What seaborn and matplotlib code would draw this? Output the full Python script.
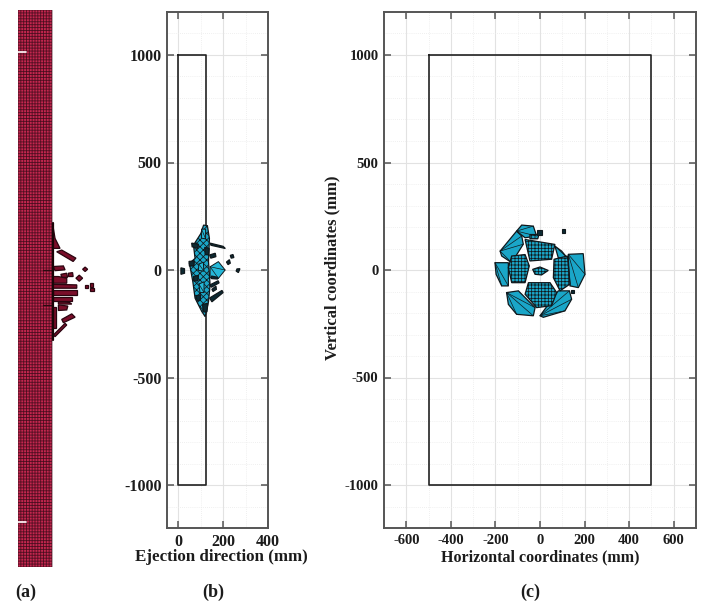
import numpy as np
import pandas as pd
import matplotlib
matplotlib.use("Agg")
import matplotlib.pyplot as plt
from matplotlib.ticker import MultipleLocator
import seaborn as sns

# ---------- data (mm) ----------
plate_side_x = [0, 125, 125, 0, 0]
plate_side_y = [1000, 1000, -1000, -1000, 1000]
plate_front_x = [-500, 500, 500, -500, -500]
plate_front_y = [1000, 1000, -1000, -1000, 1000]

# (a) debris polygons, side view of the mesh
debris_a = [
    [(124,162),(133,108),(151,72),(127,72)],
    [(139,60),(157,66),(208,37),(198,25)],
    [(127,7),(163,9),(169,-5),(133,-8)],
    [(154,-21),(175,-17),(178,-32),(157,-32)],
    [(181,-17),(196,-15),(198,-29),(181,-29)],
    [(232,-3),(241,5),(250,-3),(241,-11)],
    [(208,-35),(220,-24),(232,-35),(220,-46)],
    [(240,-58),(252,-58),(252,-70),(240,-70)],
    [(258,-52),(270,-52),(270,-66),(258,-66)],
    [(260,-70),(272,-70),(272,-82),(260,-82)],
    [(127,-29),(145,-29),(175,-35),(175,-53),(127,-53)],
    [(127,-57),(211,-59),(211,-71),(127,-71)],
    [(127,-77),(213,-77),(213,-95),(127,-95)],
    [(127,-101),(193,-101),(193,-116),(127,-116)],
    [(145,-120),(185,-122),(193,-128),(145,-128)],
    [(145,-131),(179,-135),(175,-149),(145,-151)],
    [(157,-183),(193,-163),(205,-175),(163,-195)],
    [(127,-239),(169,-197),(175,-203),(133,-245)],
    [(127,-140),(137,-140),(137,-215),(127,-215)],
]
spike_x = [[91, 127], [91, 127]]
spike_y = [[-5, -5], [-131, -131]]
face_x = [124, 124]
face_y = [162, -257]

# (b) debris polygons, side view
body_b = [(68,116),(101,170),(113,209),(130,206),(139,147),(135,39),(142,-70),
          (135,-147),(120,-217),(105,-193),(75,-131),(65,-54),(50,31),(75,54)]
solid_b = [
    [(142,15),(179,39),(209,0),(179,-39),(142,-36)],
    [(104,190),(122,190),(122,145),(104,148)],
    [(92,28),(112,36),(114,-5),(90,-2)],
    [(92,-65),(115,-55),(115,-105),(97,-105)],
]
bits_b = [
    [(142,125),(200,110),(210,100),(146,115)],
    [(140,70),(165,78),(168,62),(145,55)],
    [(215,37),(228,48),(232,32),(222,25)],
    [(232,68),(244,72),(248,58),(236,55)],
    [(262,5),(275,6),(268,-12),(258,-5)],
    [(12,10),(28,6),(28,-15),(12,-20)],
    [(140,-70),(178,-50),(182,-60),(148,-80)],
    [(150,-90),(168,-75),(170,-90),(155,-100)],
    [(140,-130),(195,-95),(200,-105),(150,-148)],
    [(148,-28),(175,-34),(176,-42),(148,-40)],
    [(60,125),(90,120),(88,100),(62,108)],
    [(48,40),(72,42),(70,20),(50,18)],
    [(68,-30),(90,-25),(88,-50),(70,-52)],
    [(78,-120),(100,-115),(98,-140),(85,-145)],
    [(108,-160),(132,-155),(128,-195),(112,-195)],
    [(118,105),(138,100),(136,70),(120,72)],
]

# (c) debris polygons, front view
facets_c = [
    [(-179,88),(-105,181),(-82,158),(-75,120),(-127,34),(-172,65)],
    [(-105,181),(-82,209),(-30,204),(-15,158),(-67,150)],
    [(-202,34),(-142,34),(-142,-74),(-172,-74),(-197,-20)],
    [(-150,-105),(-97,-97),(-22,-175),(-30,-213),(-105,-206),(-142,-160)],
    [(0,-213),(82,-97),(132,-97),(142,-136),(112,-190),(15,-220)],
    [(127,73),(194,76),(202,-20),(172,-82),(135,-74),(127,-5)],
    [(67,111),(97,88),(122,57),(82,57)],
]
dense_c = [
    [(-67,142),(67,119),(52,50),(-45,42)],
    [(-52,-59),(45,-59),(75,-105),(52,-166),(-15,-175),(-67,-113)],
    [(-127,65),(-67,72),(-48,19),(-67,-59),(-127,-59),(-142,11)],
    [(63,50),(123,65),(135,-65),(90,-97),(60,-36)],
    [(-33,3),(0,14),(37,-2),(7,-23),(-22,-20)],
    [(-45,165),(-5,165),(-10,145),(-45,145)],
]
bits_c = [
    [(97,190),(112,190),(112,170),(97,170)],
    [(-12,185),(8,185),(8,165),(-12,165)],
    [(140,-95),(152,-95),(152,-105),(140,-105)],
]

panel_labels = ["(a)", "(b)", "(c)"]
xlabel_b = "Ejection direction (mm)"
xlabel_c = "Horizontal coordinates (mm)"
ylabel_c = "Vertical coordinates (mm)"
yticks_all = [-1000, -500, 0, 500, 1000]
xticks_b = [0, 200, 400]
xticks_c = [-600, -400, -200, 0, 200, 400, 600]
mesh_x_cells = 12
mesh_y_cells = 190
mesh_width = 122
mesh_top = 928
mesh_bottom = -1072
cuts_y = [777, -910]

# ---------- style ----------
sns.set_theme(style="white")
plt.rcParams["font.family"] = ["Liberation Serif", "DejaVu Serif"]
plt.rcParams["font.weight"] = "bold"
plt.rcParams["axes.unicode_minus"] = False
plt.rcParams["hatch.linewidth"] = 0.55
W, H = 709, 610
TEAL = "#1aa6c8"
EDGE = "#10181c"
FRAME = "#555555"
TEXT = "#1c1c1c"
fig = plt.figure(figsize=(W / 100, H / 100), dpi=100)


def axes_px(l, t, r, b):
    return fig.add_axes([l / W, 1 - b / H, (r - l) / W, (b - t) / H])


def outline(ax, xs, ys):
    df = pd.DataFrame({"x": xs, "y": ys})
    sns.lineplot(data=df, x="x", y="y", sort=False, estimator=None, ax=ax,
                 color="#222222", lw=1.2, zorder=3)
    ax.set_xlabel("")
    ax.set_ylabel("")


def poly(ax, pts, face, lw=0.9, hatch=None, fan=False, z=4):
    xs, ys = zip(*pts)
    ax.fill(xs, ys, facecolor=face, edgecolor=EDGE, lw=lw, hatch=hatch, zorder=z)
    if fan:
        for p in pts[2:-1]:
            ax.plot([pts[0][0], p[0]], [pts[0][1], p[1]], color=EDGE, lw=0.5, zorder=z + 1)


def style_panel(ax, xticks, xlim, tick_size):
    ax.set_xlim(*xlim)
    ax.set_ylim(-1200, 1200)
    ax.set_xticks(xticks)
    ax.set_yticks(yticks_all)
    ax.xaxis.set_minor_locator(MultipleLocator(100))
    ax.yaxis.set_minor_locator(MultipleLocator(100))
    ax.grid(True, which="major", color="#e2e2e2", lw=0.8)
    ax.grid(True, which="minor", color="#ebebeb", lw=0.6, ls=(0, (1, 1.5)))
    ax.set_axisbelow(True)
    ax.tick_params(which="major", direction="in", length=5, width=1.1, color=FRAME,
                   top=True, right=True, left=True, bottom=True,
                   labelsize=tick_size, labelcolor=TEXT, pad=4)
    ax.tick_params(which="minor", length=0)
    for s in ax.spines.values():
        s.set_color(FRAME)
        s.set_linewidth(1.4)
        s.set_visible(True)


# ---------- panel (a) ----------
ax_a = axes_px(18, 10, 118, 567)
ax_a.set_xlim(0, 100 / 0.2785)
ax_a.set_ylim(mesh_bottom, mesh_top)
ax_a.axis("off")
xe = np.linspace(0, mesh_width, mesh_x_cells + 1)
ye = np.linspace(mesh_bottom, mesh_top, mesh_y_cells + 1)
ax_a.fill_between([xe[0], xe[-1]], mesh_bottom, mesh_top, color="#c4274f", lw=0, zorder=1)
vl = ax_a.vlines(xe, mesh_bottom, mesh_top, color="#3a0a18", lw=0.7, alpha=0.75, zorder=2)
hl = ax_a.hlines(ye, xe[0], xe[-1], color="#3a0a18", lw=0.7, alpha=0.75, zorder=2)
vl.set_snap(False)
hl.set_snap(False)
for yc in cuts_y:
    ax_a.plot([0, 28], [yc, yc], color="white", lw=1.2, zorder=5)
for sx, sy in zip(spike_x, spike_y):
    ax_a.plot(sx, sy, color="#2a0a10", lw=0.9, zorder=5)
ax_a.plot(face_x, face_y, color="#1a0508", lw=1.6, zorder=6)
for pts in debris_a:
    xs, ys = zip(*pts)
    ax_a.fill(xs, ys, facecolor="#7a0e2a", edgecolor="#2a0510", lw=0.9, zorder=4)

# ---------- panel (b) ----------
ax_b = axes_px(167, 12, 268, 528)
outline(ax_b, plate_side_x, plate_side_y)
style_panel(ax_b, xticks_b, (-50, 400), 11.5)
poly(ax_b, body_b, TEAL, hatch="xxxxx")
for pts in solid_b:
    poly(ax_b, pts, "#25b8d8", lw=0.7, fan=True, z=5)
for pts in bits_b:
    poly(ax_b, pts, "#0c2a33", lw=0.9, z=6)
ax_b.set_xlabel(xlabel_b, fontsize=12.2, fontweight="bold", color=TEXT, labelpad=1)
ax_b.xaxis.set_label_coords((221 - 167) / 101, -(549 - 528) / 516, transform=ax_b.transAxes)

# ---------- panel (c) ----------
ax_c = axes_px(384, 12, 696, 528)
outline(ax_c, plate_front_x, plate_front_y)
style_panel(ax_c, xticks_c, (-700, 700), 10.5)
for pts in facets_c:
    poly(ax_c, pts, TEAL, fan=True)
for pts in dense_c:
    poly(ax_c, pts, TEAL, hatch="+++++")
for pts in bits_c:
    poly(ax_c, pts, "#0c2a33", lw=0.8)
ax_c.set_xlabel(xlabel_c, fontsize=11.5, fontweight="bold", color=TEXT, labelpad=2)
ax_c.set_ylabel(ylabel_c, fontsize=12, fontweight="bold", color=TEXT)
ax_c.yaxis.set_label_coords(-44 / 312, 0.505)

# ---------- panel labels ----------
for label, px in zip(panel_labels, [26, 213, 530]):
    fig.text(px / W, 1 - 592 / H, label, fontsize=13, fontweight="bold",
             ha="center", va="center", color=TEXT)

fig.savefig("out.png", dpi=100)
